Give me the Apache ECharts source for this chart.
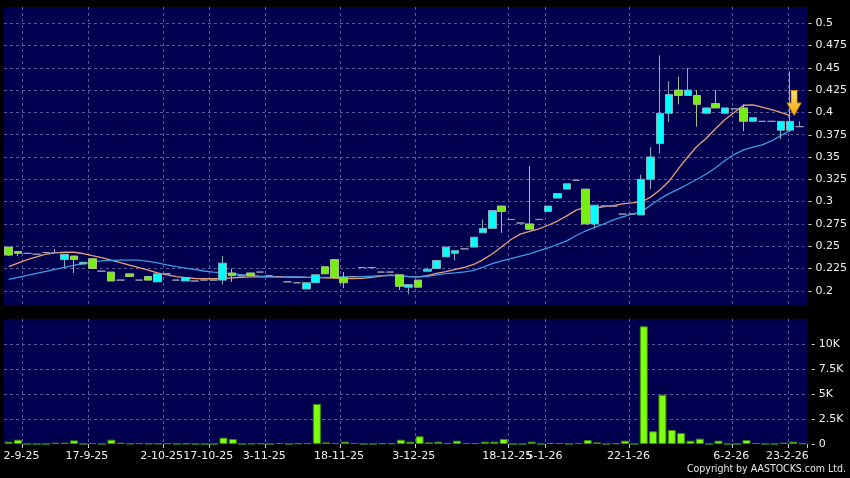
<!DOCTYPE html>
<html><head><meta charset="utf-8">
<script src="https://cdn.jsdelivr.net/npm/echarts@6/dist/echarts.min.js"></script>
<style>html,body{margin:0;padding:0;background:#000;}#c{width:850px;height:478px;}</style>
</head><body><div id="c"></div>
<script>
// ---- data ----
const priceTicks = [0.2,0.225,0.25,0.275,0.3,0.325,0.35,0.375,0.4,0.425,0.45,0.475,0.5];
const priceTickLabels = ['0.2','0.225','0.25','0.275','0.3','0.325','0.35','0.375','0.4','0.425','0.45','0.475','0.5'];
const volTicks = [0,2500,5000,7500,10000];
const volTickLabels = ['0','2.5K','5K','7.5K','10K'];
const labelIndex = [1,8,16,21,27,35,43,53,57,66,77,83];
const labelText = ['2-9-25','17-9-25','2-10-25','17-10-25','3-11-25','18-11-25','3-12-25','18-12-25','5-1-26','22-1-26','6-2-26','23-2-26'];

const opens = [0.249,0.244,0.242,0.241,0.243,0.243,0.235,0.239,0.230,0.236,
0.222,0.221,0.212,0.219,0.212,0.216,0.210,0.219,0.212,0.211,
0.211,0.212,0.212,0.212,0.220,0.217,0.220,0.221,0.217,0.216,
0.210,0.209,0.202,0.209,0.227,0.235,0.215,0.216,0.226,0.226,
0.221,0.221,0.218,0.204,0.212,0.222,0.225,0.238,0.242,0.247,
0.249,0.265,0.270,0.295,0.280,0.276,0.275,0.280,0.289,0.304,
0.314,0.324,0.314,0.275,0.295,0.295,0.286,0.286,0.285,0.325,
0.365,0.399,0.425,0.419,0.419,0.399,0.410,0.399,0.404,0.405,
0.390,0.390,0.390,0.380,0.380,0.384];
const closes = [0.240,0.242,0.242,0.241,0.243,0.243,0.241,0.235,0.232,0.225,
0.222,0.211,0.212,0.216,0.212,0.212,0.219,0.219,0.212,0.215,
0.211,0.212,0.212,0.231,0.217,0.217,0.217,0.221,0.217,0.216,
0.210,0.209,0.209,0.218,0.219,0.215,0.209,0.216,0.226,0.226,
0.221,0.221,0.205,0.207,0.204,0.224,0.234,0.249,0.245,0.247,
0.260,0.270,0.290,0.289,0.280,0.276,0.269,0.280,0.295,0.309,
0.320,0.324,0.275,0.296,0.295,0.295,0.286,0.286,0.325,0.350,
0.399,0.420,0.419,0.425,0.409,0.405,0.405,0.405,0.404,0.390,
0.394,0.390,0.390,0.390,0.390,0.384];
const lows = [0.239,0.239,0.242,0.241,0.243,0.243,0.226,0.220,0.230,0.225,
0.222,0.211,0.212,0.216,0.212,0.212,0.210,0.219,0.212,0.211,
0.211,0.212,0.212,0.207,0.210,0.217,0.217,0.221,0.217,0.216,
0.210,0.209,0.202,0.209,0.219,0.215,0.203,0.216,0.226,0.226,
0.221,0.221,0.201,0.196,0.204,0.222,0.225,0.238,0.234,0.247,
0.249,0.265,0.270,0.265,0.280,0.276,0.269,0.280,0.289,0.304,
0.314,0.324,0.275,0.270,0.295,0.295,0.286,0.286,0.285,0.314,
0.354,0.389,0.409,0.419,0.384,0.399,0.405,0.399,0.404,0.379,
0.390,0.390,0.390,0.370,0.378,0.384];
const highs = [0.249,0.244,0.242,0.241,0.243,0.247,0.241,0.239,0.232,0.236,
0.222,0.221,0.212,0.219,0.212,0.216,0.219,0.219,0.212,0.215,
0.211,0.212,0.212,0.239,0.225,0.217,0.220,0.221,0.217,0.216,
0.210,0.209,0.209,0.218,0.227,0.235,0.221,0.216,0.226,0.226,
0.221,0.221,0.218,0.207,0.212,0.226,0.234,0.249,0.245,0.247,
0.260,0.280,0.290,0.295,0.280,0.276,0.340,0.280,0.295,0.309,
0.320,0.324,0.314,0.296,0.295,0.295,0.286,0.286,0.330,0.361,
0.464,0.435,0.440,0.450,0.425,0.405,0.425,0.405,0.404,0.409,
0.394,0.390,0.390,0.390,0.446,0.390];
const volumes = [230,430,0,0,0,130,130,360,0,100,
0,430,130,40,100,40,40,80,0,40,
0,0,0,630,500,0,40,60,0,100,
0,60,100,4000,160,100,230,100,0,0,
60,60,430,230,770,160,230,100,330,100,
100,230,230,500,0,0,230,0,100,100,
0,100,400,160,0,60,330,0,11770,1270,
4930,1400,1100,330,530,0,330,0,0,400,
100,0,0,130,230,60];
const maFast = [0.227,0.231,0.235,0.238,0.241,0.2425,0.2432,0.2432,0.2418,0.2395,
0.2373,0.2343,0.2317,0.2287,0.2261,0.2231,0.2201,0.2179,0.2160,0.2148,
0.2138,0.2135,0.2135,0.2138,0.2145,0.2152,0.2156,0.2156,0.2156,0.2156,
0.2154,0.2152,0.2150,0.2150,0.2145,0.2142,0.2138,0.2138,0.2140,0.2150,
0.2165,0.2175,0.2170,0.2160,0.2156,0.2170,0.2195,0.2215,0.2240,0.2262,
0.2295,0.2350,0.2415,0.2495,0.2575,0.2635,0.2665,0.2695,0.2735,0.2782,
0.2840,0.2905,0.2935,0.2925,0.2945,0.2955,0.2975,0.2985,0.2995,0.3050,
0.3130,0.3230,0.3370,0.3500,0.3620,0.3710,0.3820,0.3920,0.4000,0.4080,
0.4085,0.4060,0.4030,0.4000,0.3965,null];
const maSlow = [0.2127,0.2150,0.2172,0.2195,0.2217,0.2240,0.2262,0.2285,0.2306,0.2325,
0.2335,0.2340,0.2343,0.2345,0.2343,0.2330,0.2312,0.2290,0.2270,0.2255,
0.2240,0.2222,0.2210,0.2200,0.2190,0.2180,0.2172,0.2165,0.2160,0.2156,
0.2155,0.2155,0.2152,0.2150,0.2150,0.2152,0.2155,0.2158,0.2160,0.2165,
0.2170,0.2172,0.2168,0.2160,0.2155,0.2160,0.2178,0.2192,0.2200,0.2212,
0.2228,0.2265,0.2305,0.2335,0.2360,0.2390,0.2415,0.2450,0.2480,0.2520,
0.2560,0.2620,0.2670,0.2710,0.2750,0.2795,0.2830,0.2860,0.2885,0.2960,
0.3030,0.3090,0.3140,0.3195,0.3250,0.3310,0.3380,0.3460,0.3530,0.3580,
0.3610,0.3635,0.3680,0.3740,0.3800,null];
const arrowIndex = 84;

// ---- build ----
const N = opens.length;
const categories = opens.map((_, i) => String(i));
const NAVY = '#00004e';
const GRIDC = '#5a5a9a';
const UP = '#00ffff', DOWN = '#77ee11', DOJI = '#9c9cb4';
const candleData = opens.map((o, i) => {
  const item = { value: [o, closes[i], lows[i], highs[i]] };
  if (o === closes[i]) item.itemStyle = { color: DOJI, color0: DOJI, borderColor: DOJI, borderColor0: DOJI };
  return item;
});
const splitAt = new Set(labelIndex.map(i => i + 1));
const labelMap = new Map(labelIndex.map((i, k) => [i, labelText[k]]));
function tickLabel(v, ticks, labels) {
  for (let k = 0; k < ticks.length; k++) if (Math.abs(ticks[k] - v) < 1e-7) return '- ' + labels[k];
  return '';
}
const dashed = { color: GRIDC, type: [3, 3], width: 1 };
const FONT = 'DejaVu Sans';
const L = 4, W = 803.2;

const option = {
  backgroundColor: '#000000',
  animation: false,
  textStyle: { fontFamily: FONT },
  grid: [
    { left: L, width: W, top: 0.9, height: 312.2, show: false },
    { left: L, width: W, top: 319, height: 125, show: true, backgroundColor: NAVY, borderWidth: 0 },
    { left: L, width: W, top: 7, height: 299, show: true, backgroundColor: NAVY, borderWidth: 0, z: -1 }
  ],
  xAxis: [
    { type: 'category', gridIndex: 0, data: categories, boundaryGap: true,
      axisLine: { show: false }, axisTick: { show: false }, axisLabel: { show: false }, splitLine: { show: false } },
    { type: 'category', gridIndex: 1, data: categories, boundaryGap: true,
      axisLine: { show: false },
      axisTick: { show: true, interval: (i) => splitAt.has(i), length: 4, lineStyle: { color: '#cccccc' } },
      axisLabel: { show: true, interval: (i) => labelMap.has(i), formatter: (v, i) => labelMap.get(i) || '',
        color: '#f0f0f0', fontSize: 11, fontFamily: FONT, margin: 7, padding: [0, 0, 0, 7] },
      splitLine: { show: true, interval: (i) => splitAt.has(i), showMaxLine: false, lineStyle: dashed } },
    { type: 'category', gridIndex: 2, data: categories, boundaryGap: true,
      axisLine: { show: false }, axisTick: { show: false }, axisLabel: { show: false },
      splitLine: { show: true, interval: (i) => splitAt.has(i), showMaxLine: false, lineStyle: dashed } }
  ],
  yAxis: [
    { type: 'value', gridIndex: 0, position: 'right', min: 0.175, max: 0.525, interval: 0.025,
      axisLine: { show: false }, axisTick: { show: false },
      axisLabel: { showMinLabel: false, showMaxLabel: false, margin: 4, color: '#f0f0f0', fontSize: 11, fontFamily: FONT,
        formatter: (v) => tickLabel(v, priceTicks, priceTickLabels) },
      splitLine: { show: true, showMinLine: false, showMaxLine: false, lineStyle: dashed } },
    { type: 'value', gridIndex: 1, position: 'right', min: 0, max: 12500, interval: 2500,
      axisLine: { show: false }, axisTick: { show: false },
      axisLabel: { showMaxLabel: false, margin: 4, color: '#f0f0f0', fontSize: 11, fontFamily: FONT,
        formatter: (v) => tickLabel(v, volTicks, volTickLabels) },
      splitLine: { show: true, showMinLine: false, showMaxLine: false, lineStyle: dashed } },
    { type: 'value', gridIndex: 2, show: false, min: 0, max: 1, splitLine: { show: false } }
  ],
  series: [
    { name: 'MA fast', type: 'line', xAxisIndex: 0, yAxisIndex: 0, data: maFast, symbol: 'none', z: 2,
      lineStyle: { color: '#e6a078', width: 1.3 },
      markPoint: {
        symbol: 'path://M4,0 L10,0 L10,12 L14,12 L7,24 L0,12 L4,12 Z',
        symbolSize: [14, 25], symbolOffset: [4, '-50%'],
        label: { show: false },
        itemStyle: { color: { type: 'linear', x: 0, y: 0, x2: 0, y2: 1,
          colorStops: [{ offset: 0, color: '#ffe27a' }, { offset: 1, color: '#f5a300' }] },
          borderColor: '#d08a00', borderWidth: 0.8 },
        data: [{ coord: [arrowIndex, maFast[arrowIndex]] }]
      } },
    { name: 'MA slow', type: 'line', xAxisIndex: 0, yAxisIndex: 0, data: maSlow, symbol: 'none', z: 2,
      lineStyle: { color: '#3b9be6', width: 1.3 } },
    { name: 'Price', type: 'candlestick', xAxisIndex: 0, yAxisIndex: 0, data: candleData, barWidth: 8, z: 3,
      itemStyle: { color: UP, color0: DOWN, borderColor: '#7fb0bc', borderColor0: '#a6c48a',
        borderColorDoji: DOJI, borderWidth: 1 } },
    { name: 'Volume', type: 'bar', xAxisIndex: 1, yAxisIndex: 1, data: volumes, barWidth: 8,
      itemStyle: { color: '#7dff0f', borderColor: '#3d8a00', borderWidth: 1 } }
  ],
  graphic: [
    { type: 'text', right: 4, top: 464, silent: true,
      style: { text: 'Copyright by AASTOCKS.com Ltd.', fill: '#e8e8e8', font: '10.5px "DejaVu Sans Condensed", "DejaVu Sans"' } }
  ]
};
const chart = echarts.init(document.getElementById('c'), null, { renderer: 'canvas' });
chart.setOption(option);
</script></body></html>
